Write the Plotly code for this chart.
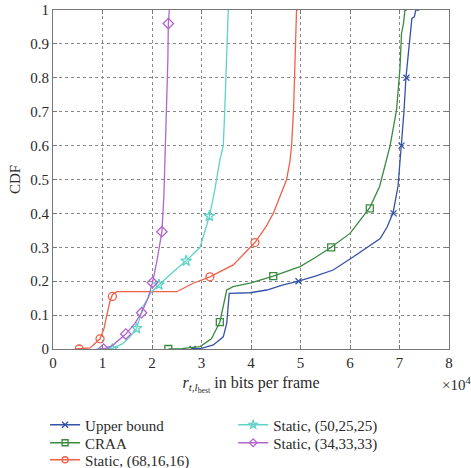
import plotly.graph_objects as go

# x values in units of 10^4 bits per frame
ub_x = [2.80, 3.00, 3.24, 3.44, 3.51, 3.54, 3.56, 3.98, 4.32, 4.65, 4.96, 5.30, 5.66, 6.07, 6.34, 6.61, 6.75, 6.87, 6.97, 7.04, 7.09, 7.13, 7.17, 7.21, 7.25, 7.30, 7.33, 7.40]
ub_y = [0, 0.002, 0.012, 0.036, 0.076, 0.140, 0.164, 0.166, 0.174, 0.189, 0.200, 0.215, 0.233, 0.272, 0.300, 0.326, 0.36, 0.402, 0.48, 0.60, 0.70, 0.80, 0.86, 0.90, 0.975, 0.98, 1.0, 1.0]
ub_mx = [2.82, 4.96, 6.88, 7.04, 7.14]
ub_my = [0, 0.2, 0.4, 0.6, 0.8]

craa_x = [2.33, 2.60, 2.97, 3.20, 3.37, 3.45, 3.51, 3.64, 4.00, 4.45, 4.99, 5.30, 5.62, 6.00, 6.40, 6.60, 6.81, 6.94, 7.01, 7.04, 7.08, 7.11, 7.15]
craa_y = [0, 0.001, 0.007, 0.03, 0.079, 0.13, 0.174, 0.184, 0.195, 0.215, 0.243, 0.27, 0.30, 0.341, 0.417, 0.48, 0.60, 0.705, 0.83, 0.93, 0.96, 1.0, 1.0]
craa_mx = [2.33, 3.37, 4.45, 5.62, 6.40]
craa_my = [0, 0.079, 0.215, 0.30, 0.415]

s68_x = [0.45, 0.75, 0.95, 1.03, 1.08, 1.15, 1.20, 1.29, 2.50, 2.83, 3.17, 3.64, 4.08, 4.30, 4.45, 4.62, 4.72, 4.79, 4.82, 4.86, 4.89, 4.92, 4.95]
s68_y = [0, 0.003, 0.03, 0.06, 0.095, 0.14, 0.16, 0.169, 0.169, 0.194, 0.213, 0.248, 0.314, 0.36, 0.40, 0.46, 0.50, 0.557, 0.60, 0.705, 0.887, 1.0, 1.0]
s68_mx = [0.53, 0.95, 1.20, 3.17, 4.08]
s68_my = [0, 0.03, 0.155, 0.213, 0.314]

s50_x = [0.88, 1.00, 1.20, 1.40, 1.55, 1.69, 1.82, 1.99, 2.14, 2.43, 2.69, 2.97, 3.16, 3.27, 3.37, 3.44, 3.47, 3.51, 3.54, 3.56]
s50_y = [0, 0.0, 0.002, 0.015, 0.035, 0.061, 0.125, 0.169, 0.19, 0.228, 0.26, 0.30, 0.392, 0.47, 0.557, 0.60, 0.705, 0.853, 1.0, 1.0]
s50_mx = [1.20, 1.69, 2.14, 2.69, 3.16]
s50_my = [0, 0.061, 0.19, 0.26, 0.392]

s34_x = [0.95, 1.02, 1.20, 1.47, 1.65, 1.79, 1.92, 2.01, 2.10, 2.20, 2.24, 2.26, 2.28, 2.30, 2.32, 2.33, 2.34, 2.35]
s34_y = [0, 0, 0.01, 0.044, 0.075, 0.107, 0.15, 0.196, 0.26, 0.346, 0.45, 0.557, 0.62, 0.705, 0.85, 0.96, 1.0, 1.0]
s34_mx = [1.02, 1.47, 1.79, 2.01, 2.20, 2.33]
s34_my = [0, 0.044, 0.107, 0.196, 0.346, 0.96]

x_ticks = [0, 1, 2, 3, 4, 5, 6, 7, 8]
y_ticks = [0, 0.1, 0.2, 0.3, 0.4, 0.5, 0.6, 0.7, 0.8, 0.9, 1]
y_labels = ["0", "0.1", "0.2", "0.3", "0.4", "0.5", "0.6", "0.7", "0.8", "0.9", "1"]

series = [
    ("Upper bound", ub_x, ub_y, ub_mx, ub_my, "#3452a8", "x-thin", 6),
    ("CRAA", craa_x, craa_y, craa_mx, craa_my, "#3a8a40", "square-open", 7),
    ("Static, (68,16,16)", s68_x, s68_y, s68_mx, s68_my, "#f0604a", "circle-open", 8),
    ("Static, (50,25,25)", s50_x, s50_y, s50_mx, s50_my, "#5fd3c6", "star-open", 8),
    ("Static, (34,33,33)", s34_x, s34_y, s34_mx, s34_my, "#b066cc", "diamond-open", 8),
]

FONT = "Liberation Serif"
TXT = "#2a2a2a"
fig = go.Figure()
legend_names = ["legend", "legend2", "legend3", "legend4", "legend5"]
for (name, x, y, mx, my, color, sym, msize), leg in zip(series, legend_names):
    mline = dict(color=color, width=1.3)
    fig.add_trace(go.Scatter(x=x, y=y, mode="lines", line=dict(color=color, width=1.3),
                             showlegend=False, hoverinfo="skip"))
    fig.add_trace(go.Scatter(x=mx, y=my, mode="markers",
                             marker=dict(symbol=sym, size=msize, color=color, line=mline),
                             showlegend=False))
    fig.add_trace(go.Scatter(x=[None], y=[None], mode="lines+markers", name=name,
                             line=dict(color=color, width=1.3),
                             marker=dict(symbol=sym, size=6, color=color, line=mline),
                             legend=leg))

axis_common = dict(showgrid=True, gridcolor="#888888", griddash="dot", gridwidth=1,
                   showline=True, linecolor="#777777", linewidth=1, mirror="allticks",
                   ticks="inside", ticklen=4, tickcolor="#777777", zeroline=False,
                   tickfont=dict(family=FONT, size=15, color=TXT))

fig.update_xaxes(range=[0, 8], tickvals=x_ticks, ticktext=[str(t) for t in x_ticks],
                 title=dict(text="<i>r</i><sub><i>t</i>,<i>l</i><sub>best</sub></sub> in bits per frame",
                            font=dict(family=FONT, size=16, color=TXT), standoff=6),
                 **axis_common)
fig.update_yaxes(range=[0, 1], tickvals=y_ticks, ticktext=y_labels,
                 title=dict(text="CDF", font=dict(family=FONT, size=15, color=TXT), standoff=6),
                 **axis_common)

leg_common = dict(font=dict(family=FONT, size=15, color=TXT), bgcolor="rgba(0,0,0,0)",
                  itemwidth=30, yanchor="middle", xanchor="left")
# legend item centres (px from top): col1 425, 443, 460 ; col2 425, 443
def py(p):
    return (349 - p) / 339.0

layout_legends = {
    "legend": dict(x=-0.02, y=py(425), **leg_common),
    "legend2": dict(x=-0.02, y=py(443), **leg_common),
    "legend3": dict(x=-0.02, y=py(460), **leg_common),
    "legend4": dict(x=0.455, y=py(425), **leg_common),
    "legend5": dict(x=0.455, y=py(443), **leg_common),
}

fig.update_layout(
    width=471, height=468,
    margin=dict(l=53, r=22, t=10, b=119, autoexpand=False),
    plot_bgcolor="white", paper_bgcolor="white",
    annotations=[dict(text="×10<sup>4</sup>", xref="paper", yref="paper", x=1.06, y=py(373),
                      xanchor="right", yanchor="top", showarrow=False,
                      font=dict(family=FONT, size=15, color=TXT))],
    **layout_legends,
)

fig.write_html("out.html")
